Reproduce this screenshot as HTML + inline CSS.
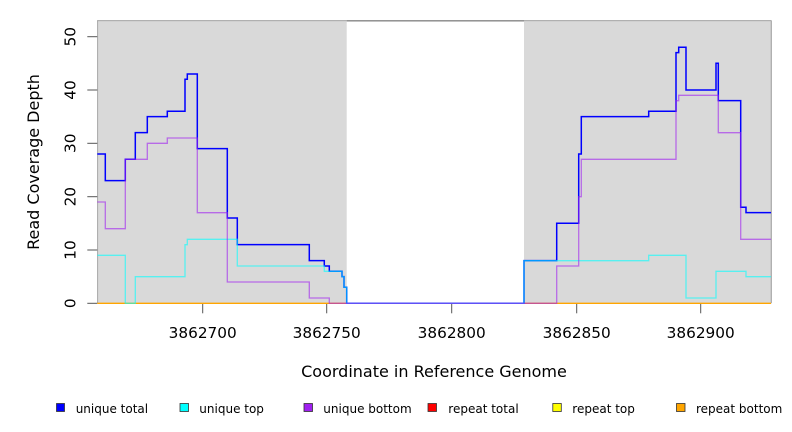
<!DOCTYPE html>
<html>
<head>
<meta charset="utf-8">
<style>
  html, body { margin: 0; padding: 0; background: #ffffff; }
  svg { display: block; }
  text { font-family: "DejaVu Sans", "Liberation Sans", sans-serif; fill: #000; }
</style>
</head>
<body>
<svg width="792" height="432" viewBox="0 0 792 432" xmlns="http://www.w3.org/2000/svg">
  <rect x="0" y="0" width="792" height="432" fill="#ffffff"/>

  <!-- top border line over the whole plot -->
  <line x1="97.3" y1="20.8" x2="771.3" y2="20.8" stroke="#858585" stroke-width="1.4"/>

  <!-- gray covered regions -->
  <rect x="97.3" y="20.5" width="249.4" height="282.8" fill="#d9d9d9"/>
  <rect x="524" y="20.5" width="247" height="282.8" fill="#d9d9d9"/>
  <line x1="97.3" y1="20.8" x2="346.7" y2="20.8" stroke="#b4b4b4" stroke-width="1"/>
  <line x1="524" y1="20.8" x2="771" y2="20.8" stroke="#b4b4b4" stroke-width="1"/>
  <line x1="97.6" y1="20.5" x2="97.6" y2="303.3" stroke="#a8a8a8" stroke-width="1"/>
  <line x1="771.3" y1="20.5" x2="771.3" y2="303.3" stroke="#a8a8a8" stroke-width="1.2"/>

  <!-- Y ticks -->
  <g stroke="#555" stroke-width="1">
    <line x1="87.3" y1="303.3" x2="97.3" y2="303.3"/>
    <line x1="87.3" y1="250" x2="97.3" y2="250"/>
    <line x1="87.3" y1="196.7" x2="97.3" y2="196.7"/>
    <line x1="87.3" y1="143.3" x2="97.3" y2="143.3"/>
    <line x1="87.3" y1="90" x2="97.3" y2="90"/>
    <line x1="87.3" y1="36.7" x2="97.3" y2="36.7"/>
  </g>
  <!-- X ticks -->
  <g stroke="#555" stroke-width="1">
    <line x1="202.7" y1="303.3" x2="202.7" y2="313.3"/>
    <line x1="326.7" y1="303.3" x2="326.7" y2="313.3"/>
    <line x1="451.7" y1="303.3" x2="451.7" y2="313.3"/>
    <line x1="576.7" y1="303.3" x2="576.7" y2="313.3"/>
    <line x1="700.7" y1="303.3" x2="700.7" y2="313.3"/>
  </g>

  <!-- repeat bottom (orange) at zero within covered regions -->
  <path d="M97.3,303.3 H346.7 M524,303.3 H771" fill="none" stroke="#ffa500" stroke-width="1.3"/>

  <!-- unique total (blue) -->
  <path d="M97.3,154 H105.3 V180.67 H125.3 V159.3 H135.3 V132.67 H147.3 V116.67 H167.3 V111.3 H185 V79.3 H187.3 V74 H197.3 V148.67 H227.3 V218 H237.3 V244.67 H309.3 V260.67 H324.3 V266 H329.3 V271.3 H342 V276.67 H344 V287.3 H346.7 V303.3 H524 V260.67 H556.7 V223.3 H578.7 V154 H581.3 V116.67 H648.7 V111.3 H676 V52.67 H678.7 V47.3 H686 V90 H716 V63.3 H718.3 V100.67 H740.7 V207.3 H746 V212.67 H771"
        fill="none" stroke="#0000ff" stroke-width="1.5" stroke-linejoin="miter"/>

  <!-- unique top (cyan) -->
  <path d="M97.3,255.3 H125.3 V303.3 H135.3 V276.67 H185 V244.67 H187.3 V239.3 H237.3 V266 H324.3 V271.3 H342 V276.67 H344 V287.3 H346.7 V303.3 H524 V260.67 H648.7 V255.3 H686 V297.97 H716 V271.3 H746 V276.67 H771"
        fill="none" stroke="#00ffff" stroke-opacity="0.6" stroke-width="1.3"/>

  <!-- unique bottom (purple) -->
  <path d="M97.3,202 H105.3 V228.67 H125.3 V159.3 H147.3 V143.3 H167.3 V138 H197.3 V212.67 H227.3 V281.97 H309.3 V297.97 H329.3 V303.3 H556.7 V266 H578.7 V196.67 H581.3 V159.3 H676 V100.67 H678.7 V95.3 H718.3 V132.67 H740.7 V239.3 H771"
        fill="none" stroke="#a020f0" stroke-opacity="0.6" stroke-width="1.3"/>

  <!-- Y tick labels -->
  <g font-size="15.3" text-anchor="middle">
    <text transform="translate(75.7,303.3) rotate(-90)">0</text>
    <text transform="translate(75.7,250) rotate(-90)">10</text>
    <text transform="translate(75.7,196.7) rotate(-90)">20</text>
    <text transform="translate(75.7,143.3) rotate(-90)">30</text>
    <text transform="translate(75.7,90) rotate(-90)">40</text>
    <text transform="translate(75.7,36.7) rotate(-90)">50</text>
  </g>
  <!-- X tick labels -->
  <g font-size="15.3" text-anchor="middle">
    <text x="202.7" y="338">3862700</text>
    <text x="326.7" y="338">3862750</text>
    <text x="451.7" y="338">3862800</text>
    <text x="576.7" y="338">3862850</text>
    <text x="700.7" y="338">3862900</text>
  </g>

  <!-- axis titles -->
  <text x="434" y="377" font-size="16" text-anchor="middle">Coordinate in Reference Genome</text>
  <text transform="translate(39,162) rotate(-90)" font-size="16" text-anchor="middle">Read Coverage Depth</text>

  <!-- legend -->
  <g stroke="#333" stroke-width="0.8">
    <rect x="56.5" y="403.5" width="8" height="8" fill="#0000ff"/>
    <rect x="180" y="403.5" width="8.5" height="8" fill="#00ffff"/>
    <rect x="304" y="403.5" width="8.5" height="8" fill="#a020f0"/>
    <rect x="428" y="403.5" width="8.5" height="8" fill="#ff0000"/>
    <rect x="552.8" y="403.5" width="8.5" height="8" fill="#ffff00"/>
    <rect x="676.5" y="403.5" width="8.5" height="8" fill="#ffa500"/>
  </g>
  <g font-size="12">
    <text x="75.7" y="413">unique total</text>
    <text x="199.3" y="413">unique top</text>
    <text x="323.3" y="413">unique bottom</text>
    <text x="448.3" y="413">repeat total</text>
    <text x="572.3" y="413">repeat top</text>
    <text x="696" y="413">repeat bottom</text>
  </g>
</svg>
</body>
</html>
